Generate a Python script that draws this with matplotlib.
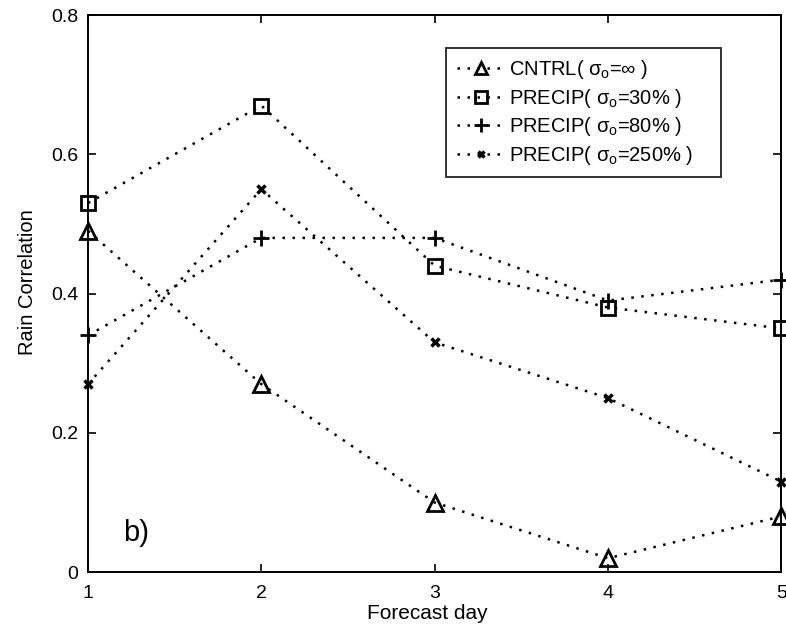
#!/usr/bin/env python3

import numpy as np
from matplotlib import pyplot as plt

plt.rcParams['font.family'] = ['Liberation Sans', 'DejaVu Sans']
plt.rcParams['mathtext.fontset'] = 'custom'
plt.rcParams['mathtext.rm'] = 'Liberation Sans'
plt.rcParams['mathtext.it'] = 'Liberation Sans'

days = [1, 2, 3, 4, 5]
cntrl = [0.49, 0.27, 0.10, 0.02, 0.08]
precip30 = [0.53, 0.67, 0.44, 0.38, 0.35]
precip80 = [0.34, 0.48, 0.48, 0.39, 0.42]
precip250 = [0.27, 0.55, 0.33, 0.25, 0.13]

labels = [r'CNTRL( $\sigma_{\rm o}$=$\infty$ )    ',
          r'PRECIP( $\sigma_{\rm o}$=30% )    ',
          r'PRECIP( $\sigma_{\rm o}$=80% )    ',
          r'PRECIP( $\sigma_{\rm o}$=250% )    ']


def main():
    fig = plt.figure(figsize=(7.86, 6.26), dpi=100)
    ax = fig.add_axes([0.112, 0.086, 0.882, 0.890])

    style = dict(color='black', linestyle=(0, (1, 3)), linewidth=1.8,
                 clip_on=False)
    ax.plot(days, cntrl, marker='^', markersize=11, markerfacecolor='none',
            markeredgewidth=2.0, label=labels[0], **style)
    ax.plot(days, precip30, marker='s', markersize=10, markerfacecolor='none',
            markeredgewidth=2.0, label=labels[1], **style)
    ax.plot(days, precip80, marker='+', markersize=12,
            markeredgewidth=2.0, label=labels[2], **style)
    ax.plot(days, precip250, marker='x', markersize=6,
            markeredgewidth=2.5, label=labels[3], **style)

    ax.set_xlim(1, 5)
    ax.set_ylim(0, 0.8)
    ax.set_xticks([1, 2, 3, 4, 5])
    ax.set_yticks([0, 0.2, 0.4, 0.6, 0.8])
    ax.set_yticklabels(['0', '0.2', '0.4', '0.6', '0.8'])
    ax.tick_params(direction='in', top=True, right=True, labelsize=14,
                   length=6, width=1.2)
    ax.tick_params(axis='x', pad=9)
    ax.tick_params(axis='y', pad=7)
    for s in ax.spines.values():
        s.set_linewidth(1.4)

    ax.set_xlabel('Forecast day', fontsize=15)
    ax.xaxis.set_label_coords(0.49, -0.058)
    ax.set_ylabel('Rain Correlation', fontsize=14.5)
    ax.yaxis.set_label_coords(-0.074, 0.52)
    ax.text(1.2, 0.056, 'b)', fontsize=21, va='center')

    leg = ax.legend(loc='upper left', bbox_to_anchor=(0.517, 0.941),
                    borderaxespad=0, fontsize=14.5, frameon=True,
                    fancybox=False, handlelength=2.4, handletextpad=0.2,
                    labelspacing=0.28, borderpad=0.5, markerscale=0.8)
    leg.get_frame().set_edgecolor('black')
    leg.get_frame().set_linewidth(1.4)

    fig.savefig('out.png', dpi=100)


if __name__ == '__main__':
    main()
